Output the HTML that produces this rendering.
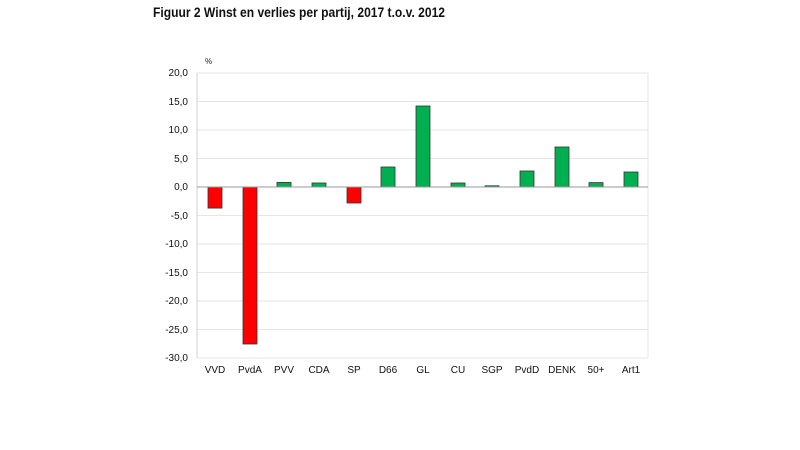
<!DOCTYPE html>
<html><head><meta charset="utf-8"><style>body{margin:0;background:#fff}svg{display:block}</style></head>
<body>
<svg width="800" height="450" xmlns="http://www.w3.org/2000/svg" font-family="'Liberation Sans',sans-serif">
<text x="153" y="17" font-size="13.5" font-weight="bold" fill="#111" textLength="292" lengthAdjust="spacingAndGlyphs">Figuur 2  Winst en verlies per partij, 2017 t.o.v. 2012</text>
<text x="205" y="64" font-size="8" fill="#222">%</text>
<g stroke="#e6e6e6" stroke-width="1">
<line x1="197" x2="648" y1="73" y2="73"/><line x1="197" x2="648" y1="101.5" y2="101.5"/><line x1="197" x2="648" y1="130" y2="130"/><line x1="197" x2="648" y1="158.5" y2="158.5"/>
<line x1="197" x2="648" y1="215.5" y2="215.5"/><line x1="197" x2="648" y1="244" y2="244"/><line x1="197" x2="648" y1="272.5" y2="272.5"/><line x1="197" x2="648" y1="301" y2="301"/><line x1="197" x2="648" y1="329.5" y2="329.5"/><line x1="197" x2="648" y1="358" y2="358"/>
<line x1="648" x2="648" y1="73" y2="358"/>
</g>
<line x1="197" x2="197" y1="73" y2="358" stroke="#d0d0d0"/>
<g font-size="10" fill="#111" text-anchor="end">
<text x="188" y="76">20,0</text><text x="188" y="105">15,0</text><text x="188" y="133">10,0</text><text x="188" y="162">5,0</text><text x="188" y="190">0,0</text><text x="188" y="219">-5,0</text><text x="188" y="247">-10,0</text><text x="188" y="276">-15,0</text><text x="188" y="304">-20,0</text><text x="188" y="333">-25,0</text><text x="188" y="361">-30,0</text>
</g>
<g stroke="#333" stroke-width="0.8">
<rect x="208" y="187" width="14" height="21.1" fill="#ff0000"/>
<rect x="243" y="187" width="14" height="157" fill="#ff0000"/>
<rect x="277" y="182.4" width="14" height="4.6" fill="#00b050"/>
<rect x="312" y="183" width="14" height="4" fill="#00b050"/>
<rect x="347" y="187" width="14" height="16" fill="#ff0000"/>
<rect x="381" y="167" width="14" height="20" fill="#00b050"/>
<rect x="416" y="106" width="14" height="81" fill="#00b050"/>
<rect x="451" y="183" width="14" height="4" fill="#00b050"/>
<rect x="485" y="185.8" width="14" height="1.2" fill="#00b050"/>
<rect x="520" y="171" width="14" height="16" fill="#00b050"/>
<rect x="555" y="147" width="14" height="40" fill="#00b050"/>
<rect x="589" y="182.6" width="14" height="4.4" fill="#00b050"/>
<rect x="624" y="172" width="14" height="15" fill="#00b050"/>
</g>
<line x1="197" x2="648" y1="187" y2="187" stroke="#999"/>
<g font-size="10" fill="#111" text-anchor="middle">
<text x="215" y="373">VVD</text><text x="250" y="373">PvdA</text><text x="284" y="373">PVV</text><text x="319" y="373">CDA</text><text x="354" y="373">SP</text><text x="388" y="373">D66</text><text x="423" y="373">GL</text><text x="458" y="373">CU</text><text x="492" y="373">SGP</text><text x="527" y="373">PvdD</text><text x="562" y="373">DENK</text><text x="596" y="373">50+</text><text x="631" y="373">Art1</text>
</g>
</svg>
</body></html>
